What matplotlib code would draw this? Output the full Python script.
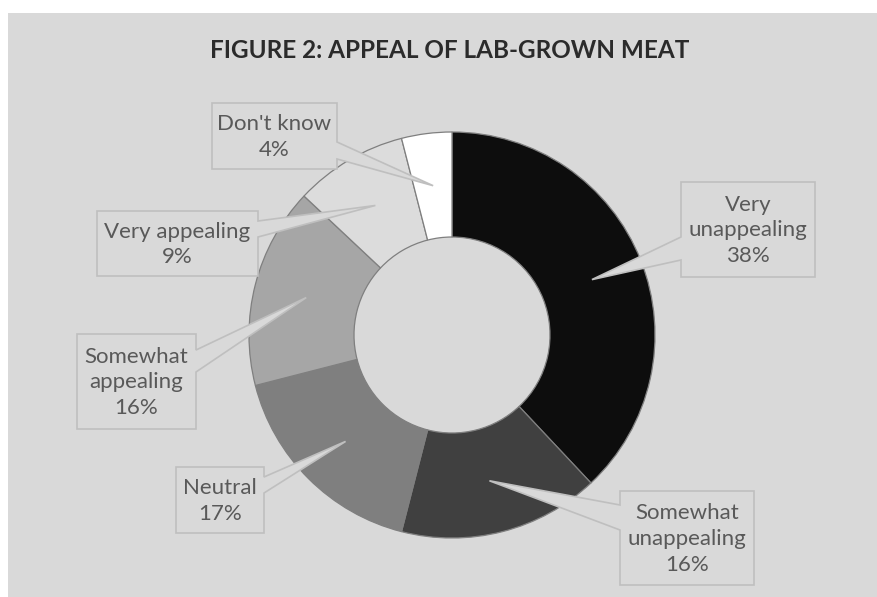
import matplotlib.pyplot as plt
from matplotlib.patches import Polygon, Rectangle
import numpy as np

# survey answers, clockwise from 12 o'clock
labels = ["Very\nunappealing", "Somewhat\nunappealing", "Neutral",
          "Somewhat\nappealing", "Very appealing", "Don't know"]
shares = [38, 16, 17, 16, 9, 4]
colors = ["#0d0d0d", "#404040", "#7f7f7f", "#a6a6a6", "#dcdcdc", "#ffffff"]

W, H = 878, 597
BG = "#d9d9d9"
TXT = "#595959"
BOX_EDGE = "#bfbfbf"

# callout boxes in pixel units: (x0, y0, x1, y1), side of pointer, pointer base
boxes = [
    ((681, 182, 815, 277), "left", (237, 260)),
    ((620, 491, 754, 585), "left", (505, 530)),
    ((176, 467, 264, 533), "right", (477, 493)),
    ((77, 334, 196, 429), "right", (350, 372)),
    ((97, 211, 258, 276), "right", (221, 237)),
    ((212, 103, 337, 169), "right", (142, 159)),
]


def px(x, y):
    # pixel position (origin top-left) -> data coords
    return (x, H - y)


def callout(ax, box, side, base, tip):
    x0, y0, x1, y1 = box
    ya, yb = base
    if side == "right":
        pts = [(x0, y0), (x1, y0), (x1, ya), tip, (x1, yb), (x1, y1), (x0, y1)]
    else:
        pts = [(x0, y0), (x1, y0), (x1, y1), (x0, y1), (x0, yb), tip, (x0, ya)]
    poly = Polygon([px(*p) for p in pts], closed=True, facecolor=BG,
                   edgecolor=BOX_EDGE, linewidth=1.2, zorder=5)
    ax.add_patch(poly)


def main():
    fig = plt.figure(figsize=(W / 100, H / 100), dpi=100)
    fig.patch.set_facecolor("white")
    ax = fig.add_axes([0, 0, 1, 1])

    # chart area
    ax.add_patch(Rectangle(px(8, 597), W - 8, 597 - 13, facecolor=BG,
                           edgecolor="none", zorder=0))

    cx, cy = 452, 335
    r_out, ring = 203, 105
    wedges, _ = ax.pie(shares, colors=colors, startangle=90, counterclock=False,
                       center=px(cx, cy), radius=r_out, frame=True,
                       wedgeprops=dict(width=ring, edgecolor="#7f7f7f",
                                       linewidth=0.9))
    ax.set_xlim(0, W)
    ax.set_ylim(0, H)
    ax.set_aspect("equal")
    ax.axis("off")

    r_mid = r_out - ring / 2
    for w, lab, val, (box, side, base) in zip(wedges, labels, shares, boxes):
        ang = np.deg2rad((w.theta1 + w.theta2) / 2)
        tip = (cx + r_mid * np.cos(ang), cy - r_mid * np.sin(ang))
        callout(ax, box, side, base, tip)
        x0, y0, x1, y1 = box
        ax.text(*px((x0 + x1) / 2, (y0 + y1) / 2 + 1), f"{lab}\n{val}%",
                ha="center", va="center", fontsize=16, color=TXT,
                family="Lato", linespacing=1.35, zorder=6)

    ax.text(*px(450, 50), "FIGURE 2: APPEAL OF LAB-GROWN MEAT", ha="center",
            va="center", fontsize=17.5, fontweight="bold", color="#2b2b2b",
            family="Lato")

    fig.savefig("out.png", dpi=100, facecolor="white")


if __name__ == '__main__':
    main()
